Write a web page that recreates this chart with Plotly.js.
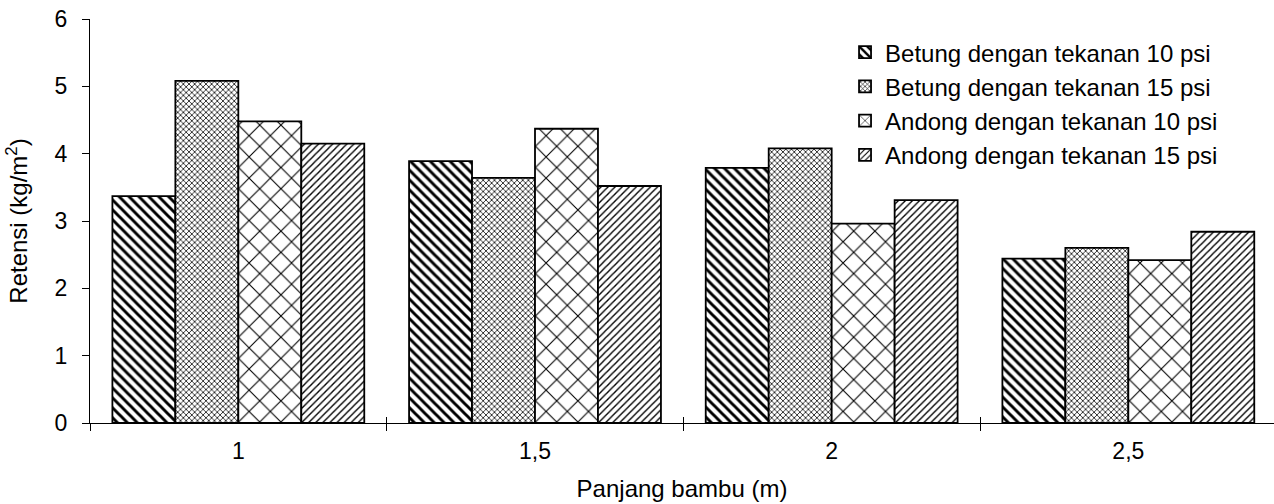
<!DOCTYPE html>
<html>
<head>
<meta charset="utf-8">
<script src="https://cdn.plot.ly/plotly-3.0.1.min.js"></script>
<style>html,body{margin:0;padding:0;background:#fff}#chart{width:1274px;height:504px}</style>
</head>
<body>
<div id="chart"></div>
<script>
const categories = ["1", "1,5", "2", "2,5"];
const seriesNames = [
  "Betung dengan tekanan 10 psi",
  "Betung dengan tekanan 15 psi",
  "Andong dengan tekanan 10 psi",
  "Andong dengan tekanan 15 psi"
];
const betung10 = [3.37, 3.89, 3.79, 2.44];
const betung15 = [5.08, 3.64, 4.08, 2.60];
const andong10 = [4.48, 4.37, 2.96, 2.42];
const andong15 = [4.15, 3.52, 3.31, 2.84];
const yTicks = [0, 1, 2, 3, 4, 5, 6];

const values = [betung10, betung15, andong10, andong15];
const patterns = [
  {shape: "\\", size: 7, solidity: 0.42},
  {shape: "x", size: 4, solidity: 0.35},
  {shape: "x", size: 15, solidity: 0.14},
  {shape: "/", size: 5, solidity: 0.28}
];

const FONT = "Liberation Sans, Arial, sans-serif";

const traces = values.map((v, i) => ({
  type: "bar",
  name: seriesNames[i],
  x: categories,
  y: v,
  marker: {
    color: "#ffffff",
    line: {color: "#000000", width: 1.8},
    pattern: Object.assign({fgcolor: "#000000", bgcolor: "#ffffff", fillmode: "replace"}, patterns[i])
  },
  hoverinfo: "x+y+name"
}));

// helper trace on an overlaid axis so category boundary ticks cross the axis line
traces.push({
  type: "scatter",
  mode: "markers",
  x: categories,
  y: categories.map(() => null),
  xaxis: "x2",
  showlegend: false,
  hoverinfo: "skip"
});

const layout = {
  width: 1274,
  height: 504,
  margin: {l: 90, r: 0, t: 19, b: 81},
  paper_bgcolor: "#ffffff",
  plot_bgcolor: "#ffffff",
  font: {family: FONT, size: 23, color: "#000000"},
  barmode: "group",
  bargap: 0.151,
  bargroupgap: 0,
  showlegend: true,
  legend: {
    x: 0.6377, y: 0.9725, xanchor: "left", yanchor: "top",
    bgcolor: "rgba(0,0,0,0)",
    font: {family: FONT, size: 24, color: "#000000"},
    tracegroupgap: 0,
    itemwidth: 30
  },
  xaxis: {
    type: "category",
    range: [-0.5, 3.491],
    showline: true, linecolor: "#000000", linewidth: 1,
    ticks: "outside", tickson: "boundaries", ticklen: 7, tickcolor: "#000000", tickwidth: 1,
    showgrid: false, zeroline: false,
    ticklabelstandoff: 7,
    tickfont: {family: FONT, size: 23, color: "#000000"},
    title: {text: "Panjang bambu (m)", font: {family: FONT, size: 24, color: "#000000"}, standoff: 17}
  },
  xaxis2: {
    type: "category",
    overlaying: "x",
    anchor: "y",
    side: "bottom",
    range: [-0.5, 3.491],
    showline: false,
    ticks: "inside", tickson: "boundaries", ticklen: 6, tickcolor: "#000000", tickwidth: 1,
    showgrid: false, zeroline: false,
    showticklabels: false
  },
  yaxis: {
    range: [0, 6],
    tickvals: yTicks,
    ticktext: yTicks.map(String),
    showline: true, linecolor: "#000000", linewidth: 1,
    ticks: "outside", ticklen: 7, tickcolor: "#000000", tickwidth: 1,
    showgrid: false, zeroline: false,
    ticklabelstandoff: 10,
    tickfont: {family: FONT, size: 23, color: "#000000"},
    title: {text: "Retensi (kg/m<sup>2</sup>)", font: {family: FONT, size: 24, color: "#000000"}, standoff: 20}
  }
};

Plotly.newPlot("chart", traces, layout, {displayModeBar: false, staticPlot: true});
</script>
</body>
</html>
